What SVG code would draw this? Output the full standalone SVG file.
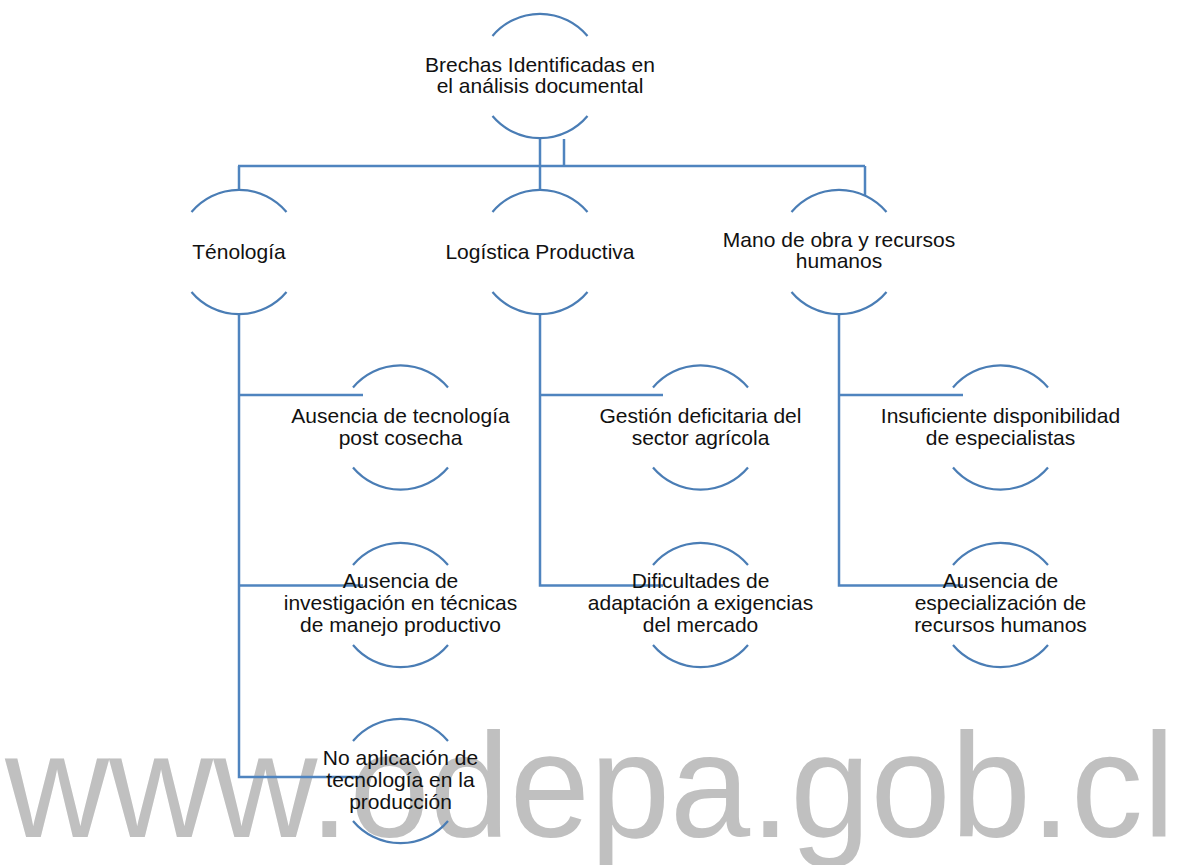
<svg xmlns="http://www.w3.org/2000/svg" width="1178" height="865" viewBox="0 0 1178 865">
<style>
.wm{font-family:"Liberation Sans",Arial,sans-serif;font-size:148px;fill:#c0c0c0}
.arc{fill:none;stroke:#4a7db5;stroke-width:2.2}
.ln{fill:none;stroke:#4f84bf;stroke-width:2.5}
text.t{font-family:"Liberation Sans",Arial,sans-serif;font-size:21px;fill:#111;text-anchor:middle}
</style>
<defs>
<g id="shape">
<path class="arc" d="M-47.5,-40 A62,62 0 0 1 47.5,-40"/>
<path class="arc" d="M-47.5,40 A62,62 0 0 0 47.5,40"/>
</g>
</defs>
<rect width="1178" height="865" fill="#fff"/>
<text class="wm" x="5" y="837" textLength="1170" lengthAdjust="spacingAndGlyphs">www.odepa.gob.cl</text>
<g id="connectors">
<path class="ln" d="M540,138 V190"/>
<path class="ln" d="M238,166 H865"/>
<path class="ln" d="M239,166 V190"/>
<path class="ln" d="M865,166 V195"/>
<path class="ln" d="M564,139 V166"/>
<path class="ln" d="M239,314 V777 H363"/>
<path class="ln" d="M239,395 H363"/>
<path class="ln" d="M239,585.5 H363"/>
<path class="ln" d="M540,314 V585.5 H663"/>
<path class="ln" d="M540,395 H663"/>
<path class="ln" d="M839,314 V585.5 H963"/>
<path class="ln" d="M839,395 H963"/>
</g>
<g id="root"><use href="#shape" x="540" y="76"/><text class="t" x="540" y="72">Brechas Identificadas en</text><text class="t" x="540" y="93">el análisis documental</text></g>
<g id="tecnologia"><use href="#shape" x="239" y="252"/><text class="t" x="239" y="259">Ténología</text></g>
<g id="logistica"><use href="#shape" x="540" y="252"/><text class="t" x="540" y="259">Logística Productiva</text></g>
<g id="mano"><use href="#shape" x="839" y="252"/><text class="t" x="839" y="247">Mano de obra y recursos</text><text class="t" x="839" y="268">humanos</text></g>
<g id="t1"><use href="#shape" x="400.5" y="427.5"/><text class="t" x="400.5" y="423">Ausencia de tecnología</text><text class="t" x="400.5" y="445">post cosecha</text></g>
<g id="t2"><use href="#shape" x="400.5" y="605"/><text class="t" x="400.5" y="588">Ausencia de</text><text class="t" x="400.5" y="610">investigación en técnicas</text><text class="t" x="400.5" y="632">de manejo productivo</text></g>
<g id="t3"><use href="#shape" x="400.5" y="781"/><text class="t" x="400.5" y="765">No aplicación de</text><text class="t" x="400.5" y="787">tecnología en la</text><text class="t" x="400.5" y="809">producción</text></g>
<g id="l1"><use href="#shape" x="700.5" y="427.5"/><text class="t" x="700.5" y="423">Gestión deficitaria del</text><text class="t" x="700.5" y="445">sector agrícola</text></g>
<g id="l2"><use href="#shape" x="700.5" y="605"/><text class="t" x="700.5" y="588">Dificultades de</text><text class="t" x="700.5" y="610">adaptación a exigencias</text><text class="t" x="700.5" y="632">del mercado</text></g>
<g id="m1"><use href="#shape" x="1000.5" y="427.5"/><text class="t" x="1000.5" y="423">Insuficiente disponibilidad</text><text class="t" x="1000.5" y="445">de especialistas</text></g>
<g id="m2"><use href="#shape" x="1000.5" y="605"/><text class="t" x="1000.5" y="588">Ausencia de</text><text class="t" x="1000.5" y="610">especialización de</text><text class="t" x="1000.5" y="632">recursos humanos</text></g>
</svg>
